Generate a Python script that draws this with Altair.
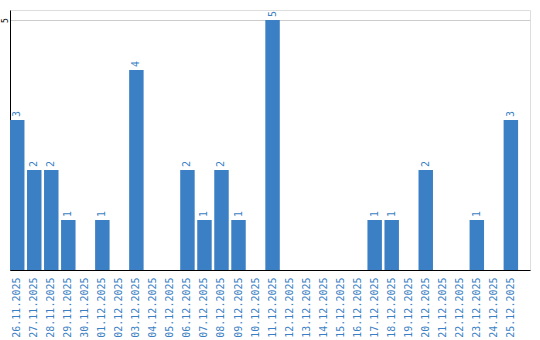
import altair as alt
import pandas as pd

dates = ["26.11.2025", "27.11.2025", "28.11.2025", "29.11.2025", "30.11.2025",
         "01.12.2025", "02.12.2025", "03.12.2025", "04.12.2025", "05.12.2025",
         "06.12.2025", "07.12.2025", "08.12.2025", "09.12.2025", "10.12.2025",
         "11.12.2025", "12.12.2025", "13.12.2025", "14.12.2025", "15.12.2025",
         "16.12.2025", "17.12.2025", "18.12.2025", "19.12.2025", "20.12.2025",
         "21.12.2025", "22.12.2025", "23.12.2025", "24.12.2025", "25.12.2025"]
counts = [3, 2, 2, 1, 0, 1, 0, 4, 0, 0, 2, 1, 2, 1, 0, 5, 0, 0, 0, 0,
          0, 1, 1, 0, 2, 0, 0, 1, 0, 3]

df = pd.DataFrame({"date": dates, "count": counts})
BLUE = "#3b7fc4"

x = alt.X("date:N", sort=dates, title=None,
          scale=alt.Scale(paddingInner=0.15, paddingOuter=0.35, align=0),
          axis=alt.Axis(labelAngle=-90, labelColor=BLUE, labelFont="DejaVu Sans Mono",
                        labelFontSize=10, ticks=False, labelPadding=7,
                        domainColor="#000000", domainWidth=1, grid=False))
y = alt.Y("count:Q", title=None,
          scale=alt.Scale(domain=[0, 5.2], nice=False),
          axis=alt.Axis(values=[5], labelAngle=-90, labelAlign="center", labelBaseline="alphabetic",
                        labelFontSize=8, labelColor="#000000", labelFont="DejaVu Sans Mono",
                        ticks=False, labelPadding=3, domainColor="#000000",
                        gridColor="#cccccc", grid=True))

bars = alt.Chart(df).mark_bar(color=BLUE).encode(x=x, y=y)
labels = alt.Chart(df).transform_filter("datum.count > 0").mark_text(
    angle=270, align="left", baseline="middle", dx=3, color=BLUE,
    font="DejaVu Sans Mono", fontSize=10
).encode(x=alt.X("date:N", sort=dates), y=alt.Y("count:Q"), text="count:Q")

chart = (bars + labels).properties(
    width=520, height=260,
    autosize=alt.AutoSizeParams(type="none"),
    padding={"left": 10, "top": 10, "right": 10, "bottom": 70},
).configure_view(stroke=None).configure(background="white")

chart.save("out.html", embed_options={"renderer": "svg", "actions": False})
